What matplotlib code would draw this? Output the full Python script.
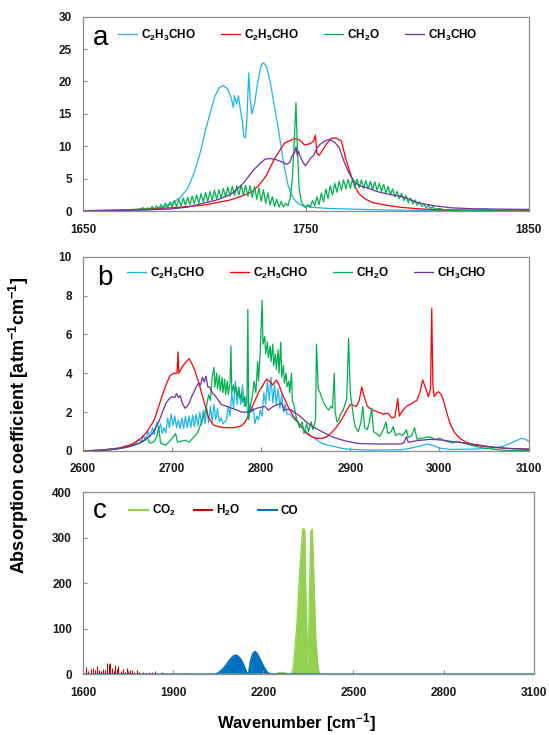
import matplotlib
matplotlib.use('Agg')
import matplotlib.pyplot as plt

# 字体设置
plt.rcParams['font.family'] = ['Liberation Sans', 'DejaVu Sans']
plt.rcParams['mathtext.fontset'] = 'custom'
plt.rcParams['mathtext.rm'] = 'Liberation Sans:bold'
plt.rcParams['mathtext.it'] = 'Liberation Sans:bold'
plt.rcParams['mathtext.bf'] = 'Liberation Sans:bold'
plt.rcParams['mathtext.sf'] = 'Liberation Sans:bold'

# ---------------- panel a (1650-1850) ----------------
a_c2h3cho_x = [1650, 1670, 1680, 1685, 1690, 1694, 1697, 1700, 1703, 1705, 1707, 1709, 1711, 1713, 1715,
               1716.5, 1717.5, 1718, 1719, 1719.8, 1720.5, 1721.5, 1722.2, 1723, 1723.6, 1724.4, 1725, 1725.8,
               1727, 1728.5, 1730, 1731, 1732.5, 1734, 1736, 1738, 1740, 1742, 1744, 1746, 1748, 1752, 1760,
               1770, 1780, 1800, 1825, 1830, 1835, 1850]
a_c2h3cho_y = [0.0, 0.05, 0.2, 0.5, 1.2, 2.2, 3.5, 6.0, 9.5, 12.5, 15.0, 17.5, 19.0, 19.4, 18.8,
               17.5, 16.0, 17.8, 16.5, 17.8, 16.0, 14.0, 11.5, 11.3, 14.5, 21.3, 17.5, 15.0,
               16.5, 20.0, 22.5, 22.9, 22.2, 20.0, 16.0, 12.0, 7.5, 4.0, 2.2, 1.3, 0.9, 0.6, 0.4,
               0.3, 0.2, 0.1, 0.1, 0.3, 0.1, 0.05]

a_c2h5cho_x = [1650, 1670, 1690, 1704, 1716, 1722, 1726, 1729, 1732, 1736, 1740.5, 1745, 1747, 1749.5, 1752,
               1753.5, 1754.3, 1755, 1756, 1759, 1761.3, 1763.5, 1766, 1768, 1770, 1772, 1774, 1777, 1780,
               1786, 1792, 1800, 1810, 1830, 1850]
a_c2h5cho_y = [0.05, 0.2, 0.5, 0.9, 1.7, 2.4, 3.0, 4.0, 5.3, 8.1, 10.5, 11.2, 11.0, 10.2, 10.4,
               10.8, 11.7, 8.9, 8.6, 10.2, 11.2, 11.3, 10.8, 8.0, 5.8, 3.8, 2.6, 1.8, 1.3,
               0.9, 0.6, 0.35, 0.2, 0.1, 0.1]

a_ch2o_x = [1650, 1660, 1670, 1675,
            1677, 1678, 1679, 1680, 1681, 1682, 1683, 1684, 1685, 1686, 1687, 1688, 1689, 1690,
            1691, 1692, 1693, 1694, 1695, 1696, 1697, 1698, 1699, 1700, 1701, 1702, 1703, 1704,
            1705, 1706, 1707, 1708, 1709, 1710, 1711, 1712, 1713, 1714, 1715, 1716, 1717, 1718,
            1719, 1720, 1721, 1722, 1723, 1724, 1725, 1726, 1727, 1728, 1729, 1730, 1731, 1732,
            1733, 1734, 1735, 1736, 1737, 1738, 1739, 1740, 1741, 1742,
            1743, 1744, 1745, 1745.6, 1746.2, 1747, 1748, 1749, 1750,
            1751, 1752, 1753, 1754, 1755, 1756, 1757, 1758, 1759, 1760, 1761, 1762, 1763, 1764,
            1765, 1766, 1767, 1768, 1769, 1770, 1771, 1772, 1773, 1774, 1775, 1776, 1777, 1778,
            1779, 1780, 1781, 1782, 1783, 1784, 1785, 1786, 1787, 1788, 1789, 1790, 1791, 1792,
            1793, 1794, 1795, 1796, 1797, 1798, 1799, 1800, 1801, 1802, 1803, 1804, 1805, 1806,
            1807, 1808, 1810, 1812, 1815, 1820, 1830, 1850]
a_ch2o_y = [0.0, 0.05, 0.15, 0.25,
            0.5, 0.2, 0.5, 0.25, 0.7, 0.3, 0.8, 0.35, 1.0, 0.4, 1.2, 0.5, 1.4, 0.6,
            1.6, 0.7, 1.8, 0.8, 2.0, 0.9, 2.1, 1.0, 2.3, 1.1, 2.5, 1.2, 2.7, 1.4,
            2.9, 1.5, 3.0, 1.7, 3.2, 1.8, 3.3, 2.0, 3.5, 2.2, 3.7, 2.3, 3.8, 2.4,
            3.9, 2.5, 4.0, 2.4, 4.0, 2.3, 3.9, 2.1, 3.8, 1.8, 3.6, 1.5, 3.3, 1.2,
            2.8, 0.9, 2.2, 0.7, 1.8, 0.6, 1.5, 0.6, 1.2, 0.8,
            2.0, 5.0, 12.0, 16.7, 10.0, 3.5, 1.5, 0.8, 0.5,
            1.0, 0.6, 1.6, 0.8, 2.2, 1.0, 2.8, 1.4, 3.4, 1.9, 3.9, 2.4, 4.3, 2.9,
            4.6, 3.2, 4.8, 3.4, 4.9, 3.5, 4.9, 3.6, 4.9, 3.6, 4.8, 3.5, 4.7, 3.4,
            4.6, 3.3, 4.5, 3.2, 4.3, 3.0, 4.1, 2.8, 3.8, 2.5, 3.4, 2.2, 3.0, 1.9,
            2.7, 1.6, 2.4, 1.3, 2.0, 1.1, 1.7, 0.9, 1.4, 0.7, 1.1, 0.5, 0.9, 0.4,
            0.7, 0.3, 0.4, 0.2, 0.15, 0.1, 0.05, 0.0]

a_ch3cho_x = [1650, 1665, 1680, 1689, 1697, 1704, 1710, 1716, 1719, 1722, 1724, 1726.5, 1729, 1731.7, 1734,
              1736, 1738.5, 1741.5, 1743, 1743.8, 1745, 1745.6, 1746.2, 1746.7, 1748, 1749, 1749.8, 1751,
              1752, 1753.5, 1755, 1756.5, 1758, 1760, 1761, 1763, 1765, 1767, 1769, 1770.5, 1772.4, 1775,
              1778.4, 1782, 1785.8, 1790, 1793.3, 1796, 1799.3, 1803, 1808, 1815, 1825, 1835, 1850]
a_ch3cho_y = [0.0, 0.05, 0.2, 0.3, 0.6, 1.2, 1.7, 2.5, 3.3, 4.3, 5.2, 6.3, 7.2, 8.0, 8.1,
              8.0, 7.7, 7.2, 7.6, 8.5, 9.0, 9.9, 8.6, 9.2, 8.0, 7.4, 7.0, 7.5,
              8.1, 8.6, 9.7, 10.3, 10.7, 11.0, 11.0, 10.6, 9.8, 7.8, 6.2, 5.2, 4.3, 3.8,
              3.5, 3.0, 2.7, 2.4, 2.2, 1.9, 1.4, 1.1, 0.8, 0.5, 0.35, 0.3, 0.25]

# ---------------- panel b (2600-3100) ----------------
b_c2h3cho_x = [2600, 2620, 2640, 2650, 2655, 2660,
               2663, 2665, 2668, 2670, 2673, 2675, 2678, 2680, 2683, 2685, 2687, 2689, 2691, 2693,
               2695, 2697, 2699, 2701, 2703, 2705, 2707, 2709, 2711, 2713, 2715, 2717, 2719, 2721,
               2723, 2725, 2727, 2729, 2731, 2733, 2735, 2737, 2739, 2741, 2743, 2745, 2747, 2749,
               2751, 2753, 2755, 2757, 2759, 2761, 2763, 2765, 2767, 2769, 2771, 2773, 2775, 2777,
               2779, 2781, 2783, 2785, 2787, 2789, 2791, 2793, 2795, 2797, 2799, 2801, 2803, 2805,
               2807, 2809, 2811, 2813, 2815, 2817, 2819, 2821, 2823, 2825, 2827, 2829,
               2832, 2838, 2845, 2850, 2857, 2863, 2868, 2875, 2883, 2890, 2898, 2920, 2956, 2965,
               2975, 2986, 2993, 3000, 3012, 3040, 3060, 3072, 3080, 3087, 3092, 3097, 3100]
b_c2h3cho_y = [0.0, 0.03, 0.12, 0.22, 0.3, 0.42,
               0.6, 0.45, 0.8, 0.55, 1.0, 0.7, 1.2, 0.85, 1.5, 1.1, 1.4, 0.9, 1.2, 0.95,
               1.7, 1.2, 1.9, 1.3, 1.8, 1.2, 1.6, 1.15, 1.7, 1.15, 1.8, 1.2, 1.8, 1.2,
               1.85, 1.25, 1.9, 1.3, 2.0, 1.35, 2.1, 1.4, 2.2, 1.45, 2.3, 1.5, 2.4, 1.6,
               2.2, 1.5, 1.7, 1.4, 1.5, 1.6, 2.3, 1.8, 3.0, 2.2, 3.6, 2.4, 3.3, 2.4,
               3.4, 2.3, 2.8, 1.8, 2.4, 2.0, 2.2, 1.4, 1.8, 1.6, 2.1, 1.8, 3.0, 2.4,
               3.6, 2.6, 3.8, 2.5, 3.4, 2.4, 3.2, 2.2, 2.9, 2.0, 2.4, 1.9,
               1.9, 1.6, 1.25, 1.0, 0.74, 0.55, 0.4, 0.3, 0.22, 0.14, 0.09, 0.05, 0.06, 0.12,
               0.22, 0.36, 0.28, 0.15, 0.08, 0.1, 0.15, 0.25, 0.4, 0.55, 0.65, 0.6, 0.5]

b_c2h5cho_x = [2600, 2620, 2640, 2655, 2665, 2672, 2680, 2685, 2690, 2694, 2698, 2702, 2705.5, 2706.6,
               2707.5, 2711, 2715, 2719, 2722, 2725, 2730, 2736, 2741, 2746, 2752, 2760, 2770, 2778,
               2782, 2786, 2790, 2794, 2798, 2802, 2806, 2809, 2813, 2817, 2820, 2823, 2827, 2831,
               2836, 2841, 2846, 2851, 2856, 2862, 2868, 2873, 2878, 2884, 2890, 2896, 2900, 2903,
               2907, 2910, 2912.8, 2915, 2919, 2925, 2931, 2937, 2942, 2946.5, 2950, 2953.2, 2955,
               2959, 2963, 2969, 2974.5, 2978, 2981.3, 2984, 2987.6, 2990, 2991.4, 2992.6, 2994,
               2997, 2999, 3002, 3004.5, 3008, 3012, 3017, 3023, 3030, 3040, 3057, 3074, 3100]
b_c2h5cho_y = [0.0, 0.05, 0.15, 0.35, 0.65, 1.0, 1.6, 2.3, 3.0, 3.5, 3.9, 4.0, 4.0, 5.1,
               4.0, 4.3, 4.55, 4.75, 4.5, 4.2, 3.5, 2.5, 1.7, 1.35, 1.25, 1.2, 1.2, 1.3,
               1.5, 1.85, 2.3, 2.7, 3.1, 3.4, 3.7, 3.6, 3.4, 3.65, 3.4, 3.0, 2.6, 2.2,
               1.8, 1.5, 1.2, 0.9, 0.75, 0.65, 0.65, 0.72, 0.9, 1.2, 1.6, 2.1, 2.4, 2.35,
               2.3, 2.6, 3.3, 2.9, 2.3, 2.1, 2.0, 1.9, 1.95, 1.7, 1.75, 2.7, 1.8,
               2.1, 2.3, 2.45, 2.6, 3.0, 3.65, 3.3, 2.8, 3.2, 7.35, 3.5, 2.8,
               3.0, 3.05, 2.9, 2.6, 2.0, 1.4, 0.95, 0.65, 0.45, 0.3, 0.2, 0.14, 0.08]

b_ch2o_x = [2600, 2620, 2640, 2655, 2663, 2668, 2672, 2674, 2676, 2680, 2683, 2685, 2687, 2693, 2697,
            2700, 2704, 2706, 2710, 2715, 2719, 2722, 2725, 2728, 2730, 2733, 2736, 2739, 2741, 2743,
            2745, 2747, 2748, 2750, 2751, 2753, 2754, 2756, 2757, 2759, 2760, 2762, 2763, 2765, 2766,
            2767, 2769, 2770, 2772, 2773, 2775, 2776, 2778, 2779, 2781, 2782, 2784, 2785, 2786, 2788,
            2790, 2792, 2794, 2796, 2797, 2799, 2801, 2802, 2804, 2805, 2807, 2808, 2810, 2811, 2813,
            2814, 2816, 2817, 2819, 2820, 2822, 2823, 2825, 2826, 2828, 2829, 2831, 2832, 2834, 2835,
            2837, 2839, 2841, 2843, 2846, 2848, 2851, 2853, 2856, 2858, 2861, 2862, 2864, 2866, 2869,
            2871, 2874, 2876, 2878, 2880, 2882, 2883, 2885, 2887, 2889, 2892, 2894, 2896, 2898, 2900,
            2902, 2904, 2906, 2909, 2912, 2914, 2916, 2919, 2921, 2924, 2926, 2929, 2933, 2937, 2940,
            2942, 2946, 2948, 2951, 2955, 2959, 2963, 2965, 2969, 2972, 2975, 2980, 2989, 2995, 3000,
            3008, 3015, 3019, 3027, 3035, 3042, 3050, 3060, 3074, 3100]
b_ch2o_y = [0.0, 0.05, 0.12, 0.25, 0.4, 0.5, 0.7, 0.45, 0.4, 0.5, 0.75, 1.25, 0.4, 0.3, 0.5,
            0.65, 0.9, 0.45, 0.5, 0.55, 0.45, 0.6, 0.75, 0.9, 1.1, 1.5, 1.8, 2.4, 2.9, 2.6,
            3.8, 4.3, 3.3, 4.0, 3.2, 3.9, 3.1, 3.8, 3.0, 3.7, 2.9, 3.6, 2.9, 3.5, 5.4,
            3.0, 3.4, 3.0, 3.3, 2.8, 3.2, 2.7, 3.0, 2.5, 2.8, 2.3, 2.5, 7.3, 1.6, 2.4,
            2.8, 3.6, 3.0, 4.6, 3.6, 5.2, 7.75, 5.5, 5.9, 5.0, 5.6, 4.8, 5.4, 4.6, 5.5,
            4.4, 5.0, 4.2, 5.2, 4.0, 5.6, 3.8, 4.4, 3.5, 4.0, 3.3, 3.6, 3.0, 4.0, 2.6,
            2.3, 1.8, 1.5, 1.2, 1.5, 0.9, 1.4, 1.0, 1.5, 1.1, 1.6, 5.5, 3.2, 3.0, 2.6,
            2.4, 2.2, 2.1, 2.3, 2.2, 4.0, 2.0, 1.5, 1.6, 1.9, 2.1, 2.4, 2.7, 5.8, 3.0,
            2.3, 1.6, 1.2, 1.0, 1.5, 2.3, 1.2, 1.1, 1.4, 2.2, 1.0, 0.9, 0.75, 1.1, 1.5,
            0.9, 1.0, 1.25, 0.8, 0.9, 0.8, 1.1, 0.7, 0.8, 1.2, 0.6, 0.65, 0.74, 0.6, 0.65,
            0.5, 0.4, 0.5, 0.4, 0.3, 0.22, 0.15, 0.09, 0.03, 0.02]

b_ch3cho_x = [2600, 2630, 2650, 2663, 2670, 2678, 2685, 2690, 2693, 2697, 2700, 2703, 2705, 2707, 2709,
              2711.5, 2714.5, 2717, 2719, 2722, 2724.6, 2727, 2730, 2732, 2734, 2736, 2738, 2740, 2742,
              2745, 2749, 2755, 2761, 2767, 2773, 2778, 2785, 2790, 2795, 2800, 2804, 2808, 2812, 2816,
              2820, 2823, 2826, 2830, 2834, 2838, 2842, 2847, 2853, 2858, 2864, 2870, 2879, 2888, 2898,
              2910, 2930, 2956, 2960, 2963, 2965, 2974.5, 2989.5, 3000.7, 3015.7, 3030.6, 3045, 3057,
              3074, 3100]
b_ch3cho_y = [0.0, 0.05, 0.2, 0.4, 0.6, 0.9, 1.5, 2.1, 2.45, 2.7, 2.8, 2.75, 2.95, 2.75, 2.85,
              2.45, 2.2, 2.3, 2.45, 2.8, 3.05, 3.3, 3.5, 3.4, 3.8, 3.55, 3.85, 3.3, 3.3,
              3.0, 2.8, 2.4, 2.3, 2.2, 2.1, 2.0, 2.0, 2.1, 2.2, 2.25, 2.3, 2.1, 2.25, 2.35,
              2.4, 2.45, 2.1, 2.15, 2.1, 1.95, 1.85, 1.65, 1.4, 1.25, 1.1, 0.95, 0.74, 0.6, 0.48,
              0.38, 0.36, 0.36, 0.42, 0.74, 0.45, 0.53, 0.6, 0.57, 0.48, 0.4, 0.3, 0.22,
              0.14, 0.1]

# ---------------- panel c (1600-3100) ----------------
co2_x = [1600, 2230, 2244, 2255, 2265, 2275, 2282, 2290, 2294, 2300, 2311, 2322, 2331, 2335, 2338, 2342,
         2347.6, 2353, 2358, 2363, 2369, 2375, 2383, 2389, 3100]
co2_y = [0, 0, 2, 4, 4, 3, 1, 0, 2, 15, 103, 234, 319, 320, 315, 161,
         12, 161, 315, 319, 198, 73, 11, 0, 0]

co_x = [1600, 2040, 2050, 2060, 2070, 2080, 2090, 2100, 2108, 2115, 2125, 2135, 2142, 2147, 2152, 2158,
        2165, 2172, 2180, 2190, 2200, 2210, 2220, 2230, 3100]
co_y = [0, 0, 3, 8, 15, 24, 33, 40, 42, 40, 33, 20, 8, 0, 5, 30,
        45, 50, 45, 32, 18, 7, 1, 0, 0]

h2o_x = [1611, 1617, 1626, 1634, 1641, 1647, 1652, 1661, 1667, 1672, 1680, 1686, 1691, 1696, 1702, 1707,
         1714, 1718, 1727, 1734, 1740, 1747, 1751, 1758, 1764, 1771, 1780, 1787, 1798, 1809, 1820, 1831,
         1839, 1864, 1892, 1914, 1936, 1964, 1992]
h2o_y = [17, 8, 12, 14, 9, 18, 10, 8, 12, 9, 25, 23, 25, 14, 8, 20,
         12, 18, 8, 11, 6, 14, 7, 10, 9, 5, 9, 4, 4, 3, 6, 4,
         7, 4, 3, 3, 2, 1, 1]

frame_color = '#8c8c8c'


def style_axes(ax):
    for sp in ax.spines.values():
        sp.set_color(frame_color)
        sp.set_linewidth(0.9)
    ax.tick_params(direction='in', length=3, color=frame_color, labelsize=8.5)
    ax.tick_params(axis='y', pad=8)
    ax.tick_params(axis='x', pad=9)
    for lab in ax.get_xticklabels() + ax.get_yticklabels():
        lab.set_fontweight('bold')
        lab.set_color('#1a1a1a')


fig = plt.figure(figsize=(5.49, 7.35), dpi=100)

lw = 0.9
col_c2h3 = '#1eb4ec'
col_c2h5 = '#ff0000'
col_ch2o = '#00b050'
col_ch3 = '#7030a0'
leg_font = {'weight': 'bold', 'size': 8.5}

# a
ax1 = fig.add_axes([0.1512, 0.7129, 0.8115, 0.2644])
ax1.plot(a_c2h3cho_x, a_c2h3cho_y, color=col_c2h3, lw=lw, label='C$_2$H$_3$CHO')
ax1.plot(a_c2h5cho_x, a_c2h5cho_y, color=col_c2h5, lw=lw, label='C$_2$H$_5$CHO')
ax1.plot(a_ch2o_x, a_ch2o_y, color=col_ch2o, lw=lw, label='CH$_2$O')
ax1.plot(a_ch3cho_x, a_ch3cho_y, color=col_ch3, lw=lw, label='CH$_3$CHO')
ax1.set_xlim(1650, 1850)
ax1.set_ylim(0, 30)
ax1.set_xticks([1650, 1750, 1850])
ax1.set_yticks(range(0, 31, 5))
style_axes(ax1)
ax1.text(0.022, 0.854, 'a', transform=ax1.transAxes, fontsize=20, va='baseline')
ax1.legend(loc='center left', bbox_to_anchor=(0.079, 0.906), ncol=4, frameon=False,
           borderpad=0, borderaxespad=0, handlelength=1.6, handletextpad=0.3, columnspacing=2.2,
           prop=leg_font)

# b
ax2 = fig.add_axes([0.1512, 0.3864, 0.8115, 0.2644])
ax2.plot(b_c2h3cho_x, b_c2h3cho_y, color=col_c2h3, lw=lw, label='C$_2$H$_3$CHO')
ax2.plot(b_c2h5cho_x, b_c2h5cho_y, color=col_c2h5, lw=lw, label='C$_2$H$_5$CHO')
ax2.plot(b_ch2o_x, b_ch2o_y, color=col_ch2o, lw=lw, label='CH$_2$O')
ax2.plot(b_ch3cho_x, b_ch3cho_y, color=col_ch3, lw=lw, label='CH$_3$CHO')
ax2.set_xlim(2600, 3100)
ax2.set_ylim(0, 10)
ax2.set_xticks(range(2600, 3101, 100))
ax2.set_yticks(range(0, 11, 2))
style_axes(ax2)
ax2.text(0.031, 0.854, 'b', transform=ax2.transAxes, fontsize=20, va='baseline')
ax2.legend(loc='center left', bbox_to_anchor=(0.099, 0.916), ncol=4, frameon=False,
           borderpad=0, borderaxespad=0, handlelength=1.6, handletextpad=0.3, columnspacing=2.2,
           prop=leg_font)

# c
ax3 = fig.add_axes([0.1512, 0.0826, 0.821, 0.2476])
ax3.fill_between(co2_x, co2_y, color='#92d050', lw=0)
ax3.plot(co2_x, co2_y, color='#92d050', lw=lw, label='CO$_2$')
ax3.vlines(h2o_x, 0, h2o_y, color='#c00000', lw=0.8)
ax3.plot([], [], color='#c00000', lw=1.5, label='H$_2$O')
ax3.fill_between(co_x, co_y, color='#0070c0', lw=0)
ax3.plot(co_x, co_y, color='#0070c0', lw=1.2, label='CO')
ax3.set_xlim(1600, 3100)
ax3.set_ylim(0, 400)
ax3.set_xticks(range(1600, 3101, 300))
ax3.set_yticks(range(0, 401, 100))
style_axes(ax3)
ax3.text(0.022, 0.859, 'c', transform=ax3.transAxes, fontsize=20, va='baseline')
leg = ax3.legend(loc='center left', bbox_to_anchor=(0.103, 0.899), ncol=3, frameon=False,
                 borderpad=0, borderaxespad=0, handlelength=1.6, handletextpad=0.3, columnspacing=1.5,
                 prop=leg_font)
for h in leg.get_lines():
    h.set_linewidth(1.5)

fig.text(0.035, 1 - 425 / 735, 'Absorption coefficient [atm$^{-1}$cm$^{-1}$]', rotation=90,
         ha='center', va='center', fontsize=13, fontweight='bold')
fig.text(0.54, 1 - 723 / 735, 'Wavenumber [cm$^{-1}$]', ha='center', va='center',
         fontsize=12, fontweight='bold')

fig.savefig('out.png', dpi=100)
